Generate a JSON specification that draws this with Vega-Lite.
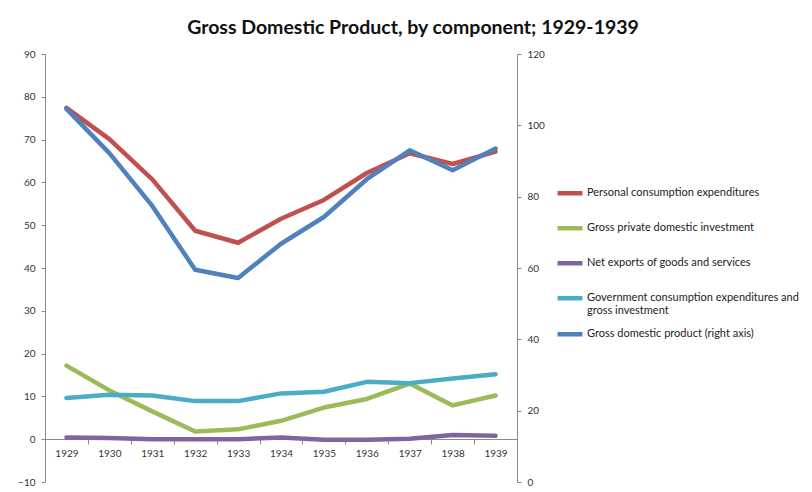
{
  "$schema": "https://vega.github.io/schema/vega-lite/v6.json",
  "autosize": {"type": "none"},
  "width": 472,
  "height": 428,
  "padding": {"left": 45, "top": 54, "right": 295, "bottom": 10},
  "background": "white",
  "config": {
    "view": {"stroke": null},
    "font": "Lato",
    "axis": {"labelFont": "Lato", "labelColor": "#333333", "labelFontSize": 10, "domainColor": "#8a8a8a", "tickColor": "#8a8a8a", "grid": false, "title": null}
  },
  "title": {"text": "Gross Domestic Product, by component; 1929-1939", "font": "Lato", "fontSize": 19.5, "fontWeight": "bold", "color": "#111111", "anchor": "middle", "dx": 132, "offset": 11},
  "data": {"values": [
    {"year": "1929", "series": "Personal consumption expenditures", "value": 77.4},
    {"year": "1930", "series": "Personal consumption expenditures", "value": 70.1},
    {"year": "1931", "series": "Personal consumption expenditures", "value": 60.7},
    {"year": "1932", "series": "Personal consumption expenditures", "value": 48.7},
    {"year": "1933", "series": "Personal consumption expenditures", "value": 45.9},
    {"year": "1934", "series": "Personal consumption expenditures", "value": 51.5},
    {"year": "1935", "series": "Personal consumption expenditures", "value": 55.9},
    {"year": "1936", "series": "Personal consumption expenditures", "value": 62.2},
    {"year": "1937", "series": "Personal consumption expenditures", "value": 66.8},
    {"year": "1938", "series": "Personal consumption expenditures", "value": 64.3},
    {"year": "1939", "series": "Personal consumption expenditures", "value": 67.2},
    {"year": "1929", "series": "Gross private domestic investment", "value": 17.2},
    {"year": "1930", "series": "Gross private domestic investment", "value": 11.4},
    {"year": "1931", "series": "Gross private domestic investment", "value": 6.5},
    {"year": "1932", "series": "Gross private domestic investment", "value": 1.8},
    {"year": "1933", "series": "Gross private domestic investment", "value": 2.3},
    {"year": "1934", "series": "Gross private domestic investment", "value": 4.3},
    {"year": "1935", "series": "Gross private domestic investment", "value": 7.4},
    {"year": "1936", "series": "Gross private domestic investment", "value": 9.4},
    {"year": "1937", "series": "Gross private domestic investment", "value": 13.0},
    {"year": "1938", "series": "Gross private domestic investment", "value": 7.9},
    {"year": "1939", "series": "Gross private domestic investment", "value": 10.2},
    {"year": "1929", "series": "Net exports of goods and services", "value": 0.4},
    {"year": "1930", "series": "Net exports of goods and services", "value": 0.3},
    {"year": "1931", "series": "Net exports of goods and services", "value": 0.0},
    {"year": "1932", "series": "Net exports of goods and services", "value": 0.0},
    {"year": "1933", "series": "Net exports of goods and services", "value": 0.0},
    {"year": "1934", "series": "Net exports of goods and services", "value": 0.4},
    {"year": "1935", "series": "Net exports of goods and services", "value": -0.1},
    {"year": "1936", "series": "Net exports of goods and services", "value": -0.1},
    {"year": "1937", "series": "Net exports of goods and services", "value": 0.1},
    {"year": "1938", "series": "Net exports of goods and services", "value": 1.0},
    {"year": "1939", "series": "Net exports of goods and services", "value": 0.8},
    {"year": "1929", "series": "Government consumption expenditures and gross investment", "value": 9.6},
    {"year": "1930", "series": "Government consumption expenditures and gross investment", "value": 10.4},
    {"year": "1931", "series": "Government consumption expenditures and gross investment", "value": 10.2},
    {"year": "1932", "series": "Government consumption expenditures and gross investment", "value": 8.9},
    {"year": "1933", "series": "Government consumption expenditures and gross investment", "value": 8.9},
    {"year": "1934", "series": "Government consumption expenditures and gross investment", "value": 10.7},
    {"year": "1935", "series": "Government consumption expenditures and gross investment", "value": 11.1},
    {"year": "1936", "series": "Government consumption expenditures and gross investment", "value": 13.4},
    {"year": "1937", "series": "Government consumption expenditures and gross investment", "value": 13.1},
    {"year": "1938", "series": "Government consumption expenditures and gross investment", "value": 14.2},
    {"year": "1939", "series": "Government consumption expenditures and gross investment", "value": 15.2},
    {"year": "1929", "series": "Gross domestic product (right axis)", "value": 104.6},
    {"year": "1930", "series": "Gross domestic product (right axis)", "value": 92.2},
    {"year": "1931", "series": "Gross domestic product (right axis)", "value": 77.4},
    {"year": "1932", "series": "Gross domestic product (right axis)", "value": 59.5},
    {"year": "1933", "series": "Gross domestic product (right axis)", "value": 57.2},
    {"year": "1934", "series": "Gross domestic product (right axis)", "value": 66.8},
    {"year": "1935", "series": "Gross domestic product (right axis)", "value": 74.3},
    {"year": "1936", "series": "Gross domestic product (right axis)", "value": 84.9},
    {"year": "1937", "series": "Gross domestic product (right axis)", "value": 93.0},
    {"year": "1938", "series": "Gross domestic product (right axis)", "value": 87.4},
    {"year": "1939", "series": "Gross domestic product (right axis)", "value": 93.5}
  ]},
  "layer": [
    {
      "transform": [{"filter": "datum.series !== 'Gross domestic product (right axis)'"}],
      "mark": {"type": "line", "strokeWidth": 4.5, "strokeJoin": "round", "strokeCap": "round"},
      "encoding": {
        "x": {"field": "year", "type": "ordinal", "scale": {"type": "band", "paddingInner": 0, "paddingOuter": 0},
              "axis": {"orient": "bottom", "offset": -43, "labelAngle": 0, "tickBand": "extent", "tickSize": 5, "labelPadding": 4}},
        "y": {"field": "value", "type": "quantitative", "scale": {"domain": [-10, 90], "nice": false, "zero": false},
              "axis": {"orient": "left", "values": [-10, 0, 10, 20, 30, 40, 50, 60, 70, 80, 90], "tickSize": 4, "labelPadding": 6}},
        "color": {"field": "series", "type": "nominal",
                  "scale": {"domain": ["Personal consumption expenditures", "Gross private domestic investment", "Net exports of goods and services", "Government consumption expenditures and gross investment", "Gross domestic product (right axis)"],
                            "range": ["#C0504D", "#9BBB59", "#8064A2", "#4BACC6", "#4F81BD"]},
                  "legend": {"title": null, "orient": "none", "legendX": 510, "legendY": 122, "symbolType": "stroke", "symbolSize": 625, "symbolStrokeWidth": 4.5, "labelOffset": 2, "labelFont": "Lato", "labelFontSize": 11, "labelColor": "#222222", "labelLimit": 300, "rowPadding": 0, "clipHeight": 34.5,
                             "labelExpr": "datum.label === 'Government consumption expenditures and gross investment' ? ['Government consumption expenditures and', 'gross investment'] : datum.label === 'Gross domestic product (right axis)' ? '\u2002\u2002\u2002' + datum.label : datum.label"}},
        "detail": {"field": "series"}
      }
    },
    {
      "transform": [{"filter": "datum.series === 'Gross domestic product (right axis)'"}],
      "mark": {"type": "line", "strokeWidth": 4.5, "strokeJoin": "round", "strokeCap": "round"},
      "encoding": {
        "x": {"field": "year", "type": "ordinal"},
        "y": {"field": "value", "type": "quantitative", "scale": {"domain": [0, 120], "nice": false},
              "axis": {"orient": "right", "values": [0, 20, 40, 60, 80, 100, 120], "tickSize": 4, "labelPadding": 6}},
        "color": {"field": "series", "type": "nominal"}
      }
    }
  ],
  "resolve": {"scale": {"y": "independent"}}
}
